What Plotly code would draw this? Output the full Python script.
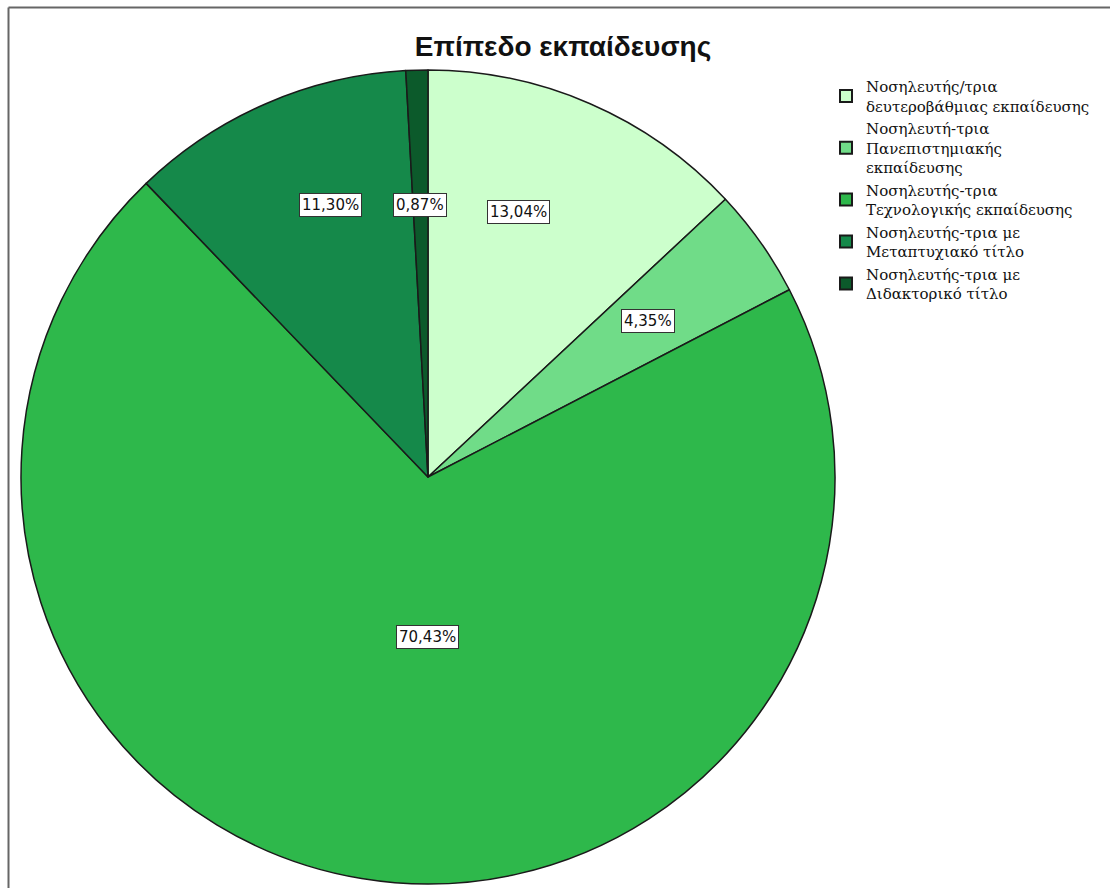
import plotly.graph_objects as go

# Εκπαιδευτικό επίπεδο νοσηλευτών (πλήθος ατόμων ανά κατηγορία)
categories = [
    "Νοσηλευτής/τρια<br>δευτεροβάθμιας εκπαίδευσης",
    "Νοσηλευτή-τρια<br>Πανεπιστημιακής<br>εκπαίδευσης",
    "Νοσηλευτής-τρια<br>Τεχνολογικής εκπαίδευσης",
    "Νοσηλευτής-τρια με<br>Μεταπτυχιακό τίτλο",
    "Νοσηλευτής-τρια με<br>Διδακτορικό τίτλο",
]
counts = [15, 5, 81, 13, 1]
colors = ["#ccffcc", "#70dc88", "#2eb84b", "#15894a", "#0c5a2b"]

# Θέσεις ετικετών ποσοστών (εικονοστοιχεία από πάνω αριστερά)
label_x = [518, 648, 427, 330, 420]
label_y = [212, 321, 637, 205, 205]

W, H = 1110, 888
total = sum(counts)
pcts = [100 * c / total for c in counts]

fig = go.Figure(go.Pie(
    labels=categories,
    values=counts,
    sort=False,
    direction="clockwise",
    rotation=0,
    marker=dict(colors=colors, line=dict(color="#1a1a1a", width=1.5)),
    textinfo="none",
    hoverinfo="label+percent",
    domain=dict(x=[21 / W, 835 / W], y=[1 - 884 / H, 1 - 70 / H]),
))

for p, x, y in zip(pcts, label_x, label_y):
    fig.add_annotation(
        x=x / W, y=1 - y / H, xref="paper", yref="paper",
        xanchor="center", yanchor="middle",
        text=f"{p:.2f}".replace(".", ",") + "%",
        showarrow=False,
        font=dict(family="DejaVu Sans", size=15, color="#111"),
        bgcolor="white", bordercolor="#333", borderwidth=1, borderpad=2,
    )

# Πλαίσιο γραφήματος (πάνω και αριστερή πλευρά)
fig.add_shape(type="line", xref="paper", yref="paper",
              x0=8.5 / W, x1=1, y0=1 - 7.5 / H, y1=1 - 7.5 / H,
              line=dict(color="#666", width=2))
fig.add_shape(type="line", xref="paper", yref="paper",
              x0=8.5 / W, x1=8.5 / W, y0=0, y1=1 - 7.5 / H,
              line=dict(color="#666", width=2))

fig.update_layout(
    width=W, height=H,
    margin=dict(l=0, r=0, t=0, b=0),
    paper_bgcolor="white",
    title=dict(
        text="<b>Επίπεδο εκπαίδευσης</b>",
        x=563 / W, xanchor="center", y=1 - 46 / H, yanchor="middle",
        font=dict(family="Liberation Sans Narrow, Liberation Sans", size=28, color="#111"),
    ),
    legend=dict(
        x=826 / W, xanchor="left", y=1 - 70 / H, yanchor="top",
        font=dict(family="DejaVu Serif", size=15, color="#111"),
        tracegroupgap=0, itemsizing="constant",
        bgcolor="rgba(0,0,0,0)",
    ),
)

fig.write_html("out.html")
